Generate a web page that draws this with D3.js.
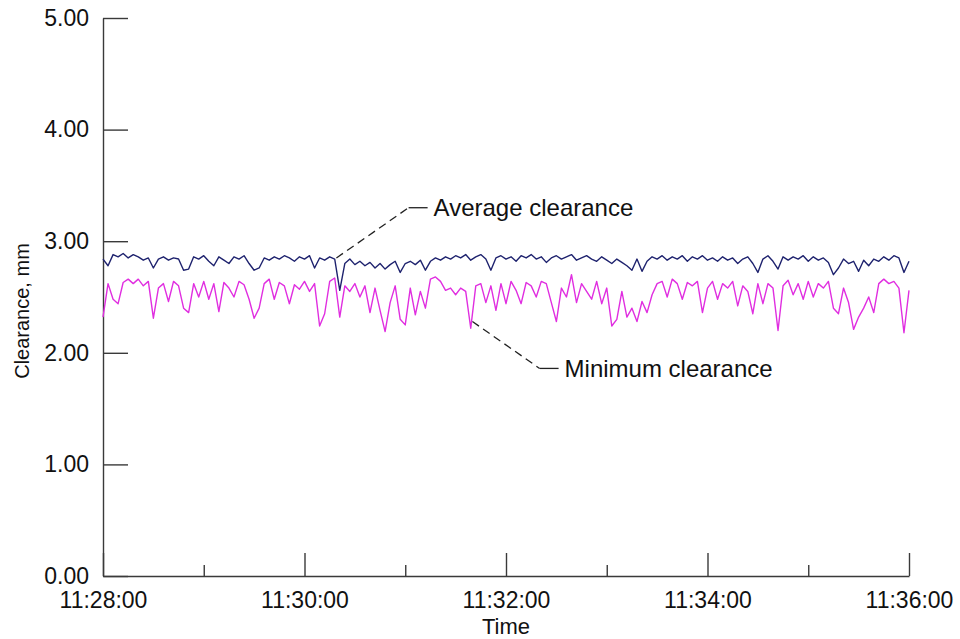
<!DOCTYPE html>
<html>
<head>
<meta charset="utf-8">
<script src="https://cdn.jsdelivr.net/npm/d3@7"></script>
<style>
    body { margin: 0; background: #fff; }
    svg text { font-family: "Liberation Sans", Arial, sans-serif; fill: #111; }
    .axis path, .axis line { stroke: #3a3a3a; stroke-width: 1.4; }
    .axis text { font-size: 23px; }
</style>
</head>
<body>
<div id="chart"></div>
<script>
// samples every 3 s from 11:28:00 to 11:36:00 (mm)
const averageClearance = [
    2.84, 2.78, 2.88, 2.86, 2.89, 2.85, 2.88, 2.86, 2.83, 2.85,
    2.76, 2.84, 2.86, 2.83, 2.85, 2.84, 2.74, 2.75, 2.86, 2.84,
    2.87, 2.82, 2.78, 2.86, 2.83, 2.80, 2.86, 2.84, 2.87, 2.80,
    2.74, 2.76, 2.85, 2.83, 2.86, 2.84, 2.87, 2.85, 2.82, 2.86,
    2.84, 2.87, 2.76, 2.85, 2.83, 2.86, 2.84, 2.56, 2.80, 2.84,
    2.79, 2.82, 2.78, 2.81, 2.76, 2.80, 2.75, 2.79, 2.82, 2.72,
    2.80, 2.82, 2.79, 2.83, 2.74, 2.82, 2.85, 2.83, 2.86, 2.84,
    2.87, 2.85, 2.88, 2.83, 2.86, 2.88, 2.84, 2.74, 2.85, 2.87,
    2.84, 2.86, 2.82, 2.87, 2.85, 2.88, 2.84, 2.86, 2.81, 2.85,
    2.87, 2.84, 2.86, 2.88, 2.83, 2.85, 2.87, 2.84, 2.82, 2.86,
    2.83, 2.80, 2.84, 2.81, 2.78, 2.74, 2.84, 2.73, 2.82, 2.86,
    2.84, 2.87, 2.83, 2.86, 2.84, 2.87, 2.82, 2.86, 2.84, 2.87,
    2.83, 2.85, 2.82, 2.86, 2.83, 2.85, 2.80, 2.84, 2.86, 2.80,
    2.72, 2.84, 2.87, 2.82, 2.75, 2.86, 2.83, 2.86, 2.84, 2.87,
    2.82, 2.86, 2.83, 2.85, 2.81, 2.70, 2.76, 2.84, 2.80, 2.82,
    2.73, 2.83, 2.78, 2.84, 2.82, 2.86, 2.83, 2.87, 2.85, 2.72,
    2.82
];
const minimumClearance = [
    2.32, 2.62, 2.48, 2.44, 2.63, 2.66, 2.62, 2.66, 2.60, 2.64,
    2.31, 2.58, 2.62, 2.46, 2.64, 2.60, 2.40, 2.36, 2.62, 2.50,
    2.64, 2.48, 2.62, 2.37, 2.63, 2.58, 2.50, 2.64, 2.61, 2.48,
    2.31, 2.40, 2.62, 2.66, 2.48, 2.63, 2.60, 2.44, 2.61, 2.57,
    2.64, 2.55, 2.62, 2.24, 2.35, 2.64, 2.67, 2.32, 2.60, 2.55,
    2.62, 2.50, 2.60, 2.36, 2.58, 2.38, 2.19, 2.45, 2.60, 2.30,
    2.25, 2.58, 2.34, 2.55, 2.40, 2.66, 2.68, 2.64, 2.56, 2.58,
    2.52, 2.58, 2.55, 2.22, 2.60, 2.62, 2.45, 2.60, 2.38, 2.62,
    2.44, 2.64, 2.56, 2.44, 2.63, 2.60, 2.50, 2.64, 2.62, 2.45,
    2.28, 2.58, 2.50, 2.70, 2.45, 2.62, 2.55, 2.48, 2.64, 2.44,
    2.58, 2.24, 2.30, 2.55, 2.32, 2.40, 2.28, 2.46, 2.36, 2.52,
    2.62, 2.64, 2.50, 2.66, 2.62, 2.48, 2.63, 2.60, 2.64, 2.36,
    2.58, 2.64, 2.48, 2.62, 2.58, 2.64, 2.42, 2.60, 2.55, 2.35,
    2.62, 2.44, 2.62, 2.58, 2.20, 2.60, 2.65, 2.52, 2.62, 2.48,
    2.64, 2.50, 2.62, 2.58, 2.64, 2.40, 2.35, 2.58, 2.45, 2.21,
    2.32, 2.40, 2.50, 2.36, 2.62, 2.66, 2.62, 2.64, 2.58, 2.18,
    2.56
];
const yTickValues = [0, 1, 2, 3, 4, 5];
const xTickMinutes = [28, 29, 30, 31, 32, 33, 34, 35, 36];
const labelledMinutes = [28, 30, 32, 34, 36];

// annotation anchors: [seconds after 11:28:00, clearance]
const avgPointer = { at: [139, 2.85], elbow: [182, 3.30], text: 'Average clearance' };
const minPointer = { at: [220, 2.28], elbow: [260, 1.86], text: 'Minimum clearance' };

const startTime = new Date(2000, 0, 1, 11, 28, 0);
const stepSeconds = 3;
const atSeconds = s => new Date(startTime.getTime() + s * 1000);
const atMinute = m => new Date(2000, 0, 1, 11, m, 0);

const margin = { top: 18, right: 51, bottom: 63, left: 103 };
const containerWidth = 960, containerHeight = 639;
const width = containerWidth - margin.left - margin.right;
const height = containerHeight - margin.top - margin.bottom;

const svg = d3.select('#chart').append('svg')
    .attr('width', containerWidth)
    .attr('height', containerHeight);

const chart = svg.append('g')
    .attr('transform', `translate(${margin.left},${margin.top})`);

const xScale = d3.scaleTime()
    .domain([atMinute(28), atMinute(36)])
    .range([0, width]);

const yScale = d3.scaleLinear()
    .domain([0, 5])
    .range([height, 0]);

// axes, ticks point inward
const xAxis = d3.axisBottom(xScale)
    .tickValues(xTickMinutes.map(atMinute))
    .tickSize(-23)
    .tickSizeOuter(0)
    .tickPadding(18)
    .tickFormat(d => labelledMinutes.includes(d.getMinutes()) ? d3.timeFormat('%H:%M:%S')(d) : '');

const yAxis = d3.axisLeft(yScale)
    .tickValues(yTickValues)
    .tickSize(-25)
    .tickSizeOuter(0)
    .tickPadding(14)
    .tickFormat(d3.format('.2f'));

const xAxisG = chart.append('g')
    .attr('class', 'axis x-axis')
    .attr('transform', `translate(0,${height})`)
    .call(xAxis);

xAxisG.selectAll('.tick line')
    .attr('y2', d => labelledMinutes.includes(d.getMinutes()) ? -23 : -11);
xAxisG.selectAll('.tick text').attr('dy', '0.6em');

chart.append('g')
    .attr('class', 'axis y-axis')
    .call(yAxis);

// lines
const line = d3.line()
    .x((d, i) => xScale(atSeconds(i * stepSeconds)))
    .y(d => yScale(d));

chart.append('path')
    .datum(minimumClearance)
    .attr('fill', 'none')
    .attr('stroke', '#e02ee0')
    .attr('stroke-width', 1.4)
    .attr('stroke-linejoin', 'round')
    .attr('d', line);

chart.append('path')
    .datum(averageClearance)
    .attr('fill', 'none')
    .attr('stroke', '#1e226e')
    .attr('stroke-width', 1.4)
    .attr('stroke-linejoin', 'round')
    .attr('d', line);

// annotations
const px = p => [xScale(atSeconds(p[0])), yScale(p[1])];

function addPointer(p) {
    const a = px(p.at), e = px(p.elbow);
    chart.append('line')
        .attr('x1', a[0]).attr('y1', a[1]).attr('x2', e[0]).attr('y2', e[1])
        .attr('stroke', '#222').attr('stroke-width', 1.3)
        .attr('stroke-dasharray', '8,5');
    chart.append('line')
        .attr('x1', e[0]).attr('y1', e[1]).attr('x2', e[0] + 19).attr('y2', e[1])
        .attr('stroke', '#222').attr('stroke-width', 1.3);
    chart.append('text')
        .attr('x', e[0] + 25)
        .attr('y', e[1])
        .attr('dy', '0.35em')
        .style('font-size', '24px')
        .text(p.text);
}
addPointer(avgPointer);
addPointer(minPointer);

// axis titles
svg.append('text')
    .attr('x', margin.left + width / 2)
    .attr('y', 634)
    .attr('text-anchor', 'middle')
    .style('font-size', '22px')
    .text('Time');

svg.append('text')
    .attr('transform', 'translate(29,311) rotate(-90)')
    .attr('text-anchor', 'middle')
    .style('font-size', '20px')
    .text('Clearance, mm');
</script>
</body>
</html>
